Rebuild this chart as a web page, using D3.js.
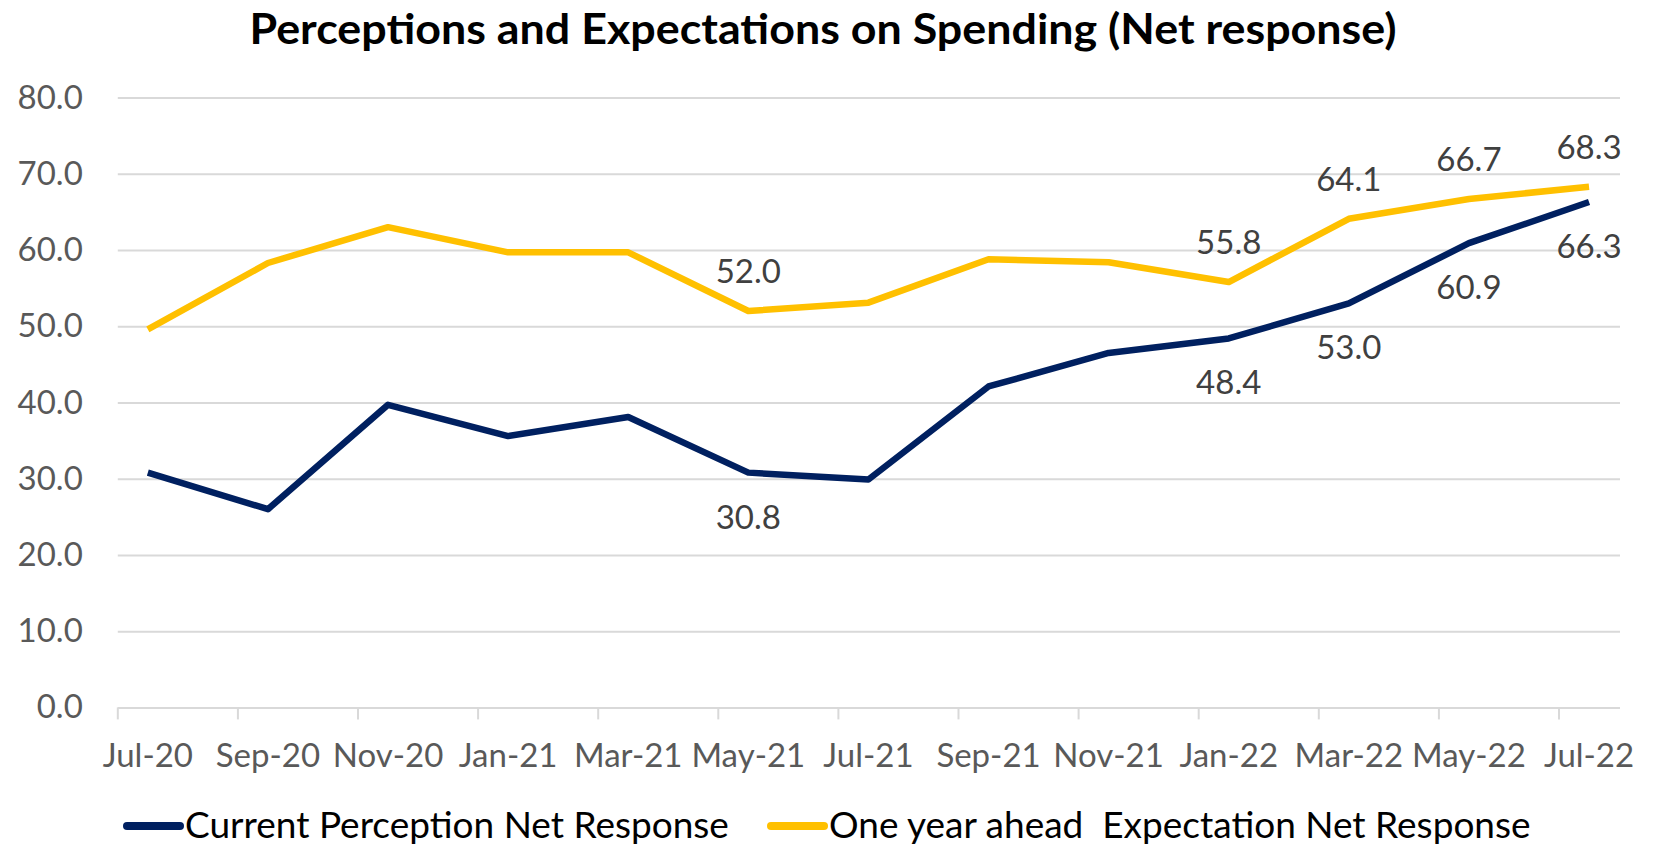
<!DOCTYPE html>
<html>
<head>
<meta charset="utf-8">
<script src="https://cdn.jsdelivr.net/npm/d3@7"></script>
<style>
  html, body { margin: 0; padding: 0; background: #fff; }
  svg text { font-family: Lato, "Open Sans", sans-serif; }
  .gridline { stroke: #d9d9d9; stroke-width: 2; }
  .tick-lbl { fill: #595959; font-size: 33px; }
  .d-lbl { fill: #404040; font-size: 33px; }
</style>
</head>
<body>
<div id="chart"></div>
<script>
// Perceptions vs expectations on spending, net response, bi-monthly Jul-20..Jul-22.
const months = ["Jul-20", "Sep-20", "Nov-20", "Jan-21", "Mar-21", "May-21", "Jul-21",
  "Sep-21", "Nov-21", "Jan-22", "Mar-22", "May-22", "Jul-22"];
const current = [30.8, 26.0, 39.7, 35.6, 38.1, 30.8, 29.9, 42.1, 46.5, 48.4, 53.0, 60.9, 66.3];
const expected = [49.6, 58.3, 63.0, 59.7, 59.7, 52.0, 53.1, 58.8, 58.4, 55.8, 64.1, 66.7, 68.3];
const labelled = ["May-21", "Jan-22", "Mar-22", "May-22", "Jul-22"]; // points carrying data labels
const yTicks = [0, 10, 20, 30, 40, 50, 60, 70, 80];
const NAVY = "#002060", GOLD = "#FFC000";

const W = 1678, H = 847;
const plotLeft = 117.8, plotTop = 97.6, plotBottom = 707.4, gridRight = 1620;
const svg = d3.select("#chart").append("svg").attr("width", W).attr("height", H);

const x = d3.scaleBand(months, [plotLeft, plotLeft + 13 * 120.1]);
const bw = x.bandwidth();
const px = (m) => x(m) + bw / 4; // points sit a quarter into each band
const y = d3.scaleLinear([0, 80], [plotBottom, plotTop]);

svg.append("text").attr("x", 823).attr("y", 44).attr("text-anchor", "middle")
  .attr("font-size", 42).attr("font-weight", 700).attr("fill", "#000")
  .attr("textLength", 1147).attr("lengthAdjust", "spacingAndGlyphs")
  .text("Perceptions and Expectations on Spending (Net response)");

// y gridlines + labels
const ya = svg.append("g").attr("transform", `translate(${plotLeft},0)`)
  .call(d3.axisLeft(y).tickValues(yTicks).tickFormat(d3.format(".1f"))
    .tickSize(-(gridRight - plotLeft)).tickPadding(35));
ya.select(".domain").remove();
ya.selectAll("line").attr("class", "gridline");
ya.selectAll("text").attr("class", "tick-lbl").attr("font-size", null).attr("fill", null);

// x labels and tick marks at band edges
const xa = svg.append("g").attr("transform", `translate(0,${plotBottom})`)
  .call(d3.axisBottom(x).tickSize(0).tickPadding(36));
xa.select(".domain").remove();
xa.selectAll("text").attr("class", "tick-lbl").attr("font-size", null).attr("fill", null)
  .attr("dx", -bw / 4);
svg.append("g").selectAll("line").data(months).join("line").attr("class", "gridline")
  .attr("x1", (d) => x(d)).attr("x2", (d) => x(d)).attr("y1", plotBottom).attr("y2", plotBottom + 12);

const line = d3.line().x((d, i) => px(months[i])).y((d) => y(d));
svg.append("path").datum(current).attr("d", line).attr("fill", "none")
  .attr("stroke", NAVY).attr("stroke-width", 6.5).attr("stroke-linejoin", "round");
svg.append("path").datum(expected).attr("d", line).attr("fill", "none")
  .attr("stroke", GOLD).attr("stroke-width", 6.5).attr("stroke-linejoin", "round");

const idx = labelled.map((m) => months.indexOf(m));
svg.append("g").selectAll("text").data(idx).join("text").attr("class", "d-lbl")
  .attr("text-anchor", "middle").attr("dominant-baseline", "central")
  .attr("x", (i) => px(months[i])).attr("y", (i) => y(expected[i]) - 41)
  .text((i) => expected[i].toFixed(1));
svg.append("g").selectAll("text").data(idx).join("text").attr("class", "d-lbl")
  .attr("text-anchor", "middle").attr("dominant-baseline", "central")
  .attr("x", (i) => px(months[i])).attr("y", (i) => y(current[i]) + 43)
  .text((i) => current[i].toFixed(1));

// legend
const legend = [
  { name: "Current Perception Net Response", color: NAVY, x: 127 },
  { name: "One year ahead  Expectation Net Response", color: GOLD, x: 771 },
];
const lg = svg.append("g").selectAll("g").data(legend).join("g")
  .attr("transform", (d) => `translate(${d.x},826)`);
lg.append("line").attr("x1", 0).attr("x2", 53).attr("stroke", (d) => d.color)
  .attr("stroke-width", 8).attr("stroke-linecap", "round");
lg.append("text").attr("x", 58).attr("y", 12).attr("font-size", 37).attr("fill", "#000")
  .style("white-space", "pre").text((d) => d.name);
</script>
</body>
</html>
